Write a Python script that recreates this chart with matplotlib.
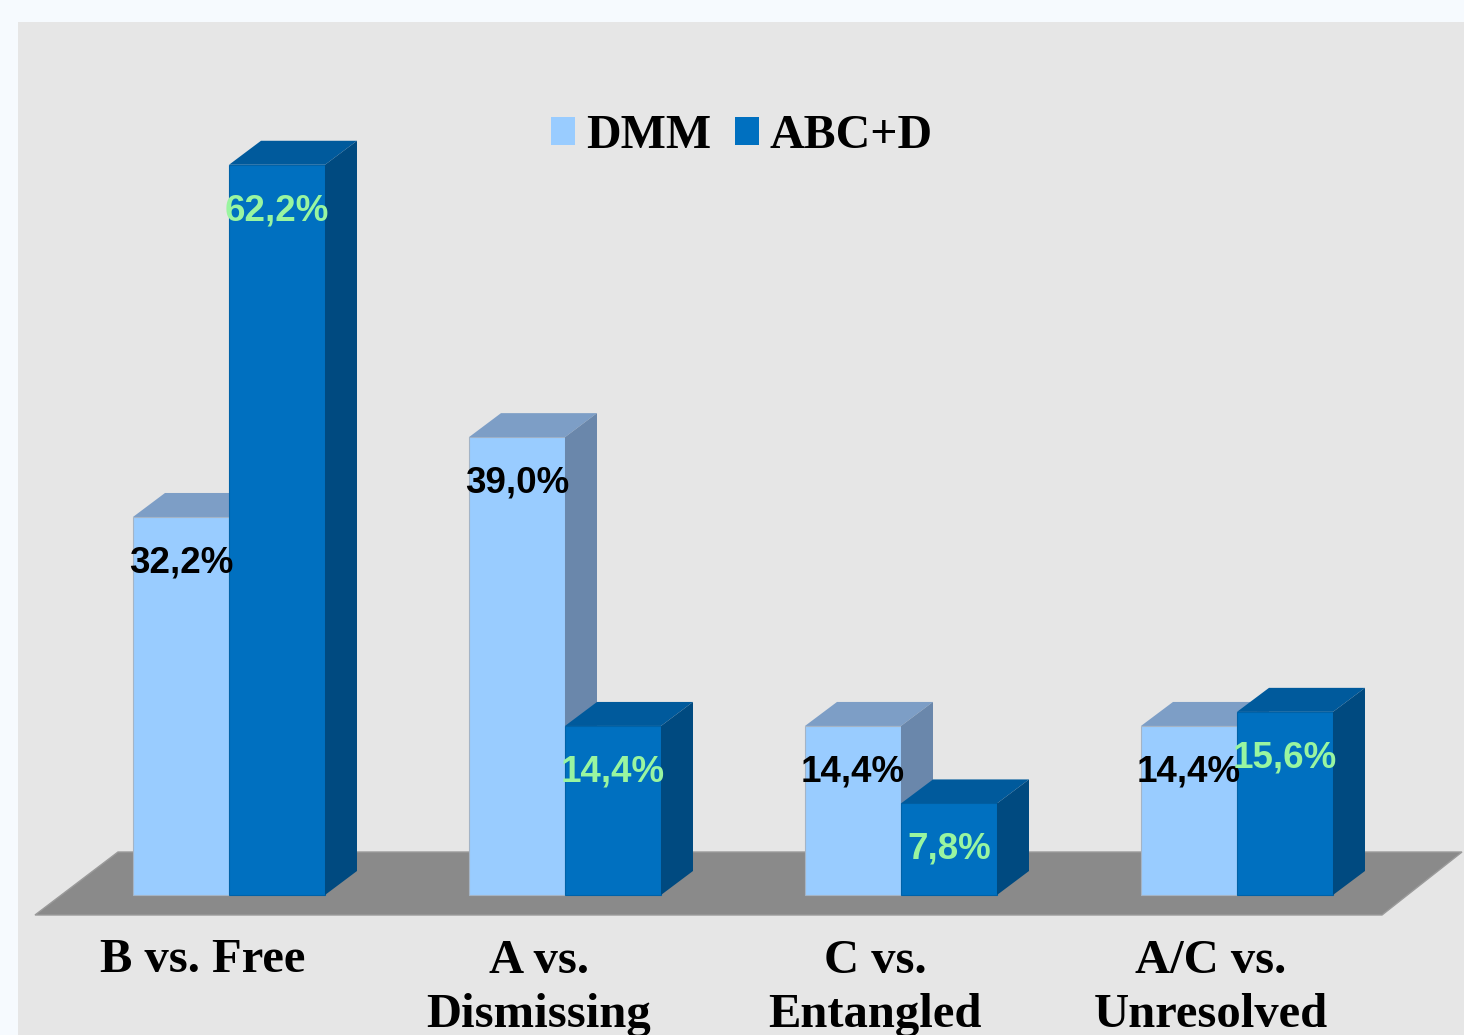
import numpy as np
import matplotlib
matplotlib.use('Agg')
import matplotlib.pyplot as plt
from matplotlib.patches import Patch, Polygon
from matplotlib.font_manager import FontProperties
import matplotlib.transforms as mtransforms

# %% data
categories = ['B vs. Free', 'A vs.\nDismissing', 'C vs.\nEntangled', 'A/C vs.\nUnresolved']
series_names = ['DMM', 'ABC+D']
dmm = [32.2, 39.0, 14.4, 14.4]
abcd = [62.2, 14.4, 7.8, 15.6]
dmm_labels = ['32,2%', '39,0%', '14,4%', '14,4%']
abcd_labels = ['62,2%', '14,4%', '7,8%', '15,6%']

# %% style
W, H = 1464, 1035
px_per_group = 336.0
px_per_pct = 11.74
x0_px, base_px = 229.0, 895.0       # group 0 centre, bar base (pixels from top)
bar_w = 96 / px_per_group
ddx = 32 / px_per_group              # 3d depth offset
ddy = 24 / px_per_pct

light = dict(front='#99ccff', top='#7d9ec6', side='#6a87ab', edge='#a4b4c6')
dark = dict(front='#0070c0', top='#005a9c', side='#004a80', edge='#0062a8')
green = '#99f5a0'

fig = plt.figure(figsize=(W / 100, H / 100), dpi=100, facecolor='#f6fafe')
panel_l, panel_t = 18, 22
ax = fig.add_axes([panel_l / W, 0, 1 - panel_l / W, 1 - panel_t / H])
ax.set_facecolor('#e6e6e6')
for s in ax.spines.values():
    s.set_visible(False)
ax.set_xticks([])
ax.set_yticks([])
ax.set_xlim((panel_l - x0_px) / px_per_group, (W - x0_px) / px_per_group)
ax.set_ylim((base_px - H) / px_per_pct, (base_px - panel_t) / px_per_pct)

# %% floor
fl_front = (base_px - 915) / px_per_pct
fl_back = (base_px - 852) / px_per_pct
floor = Polygon([((35 - x0_px) / px_per_group, fl_front),
                 ((1382 - x0_px) / px_per_group, fl_front),
                 ((1462 - x0_px) / px_per_group, fl_back),
                 ((118 - x0_px) / px_per_group, fl_back)],
                closed=True, facecolor='#8a8a8a', edgecolor='#9a9a9a', lw=1, zorder=1)
ax.add_patch(floor)

x = np.arange(len(categories))


def bars_3d(xs, vals, c, z):
    ax.bar(xs, vals, width=bar_w, align='edge', color=c['front'],
           edgecolor=c['edge'], linewidth=0.8, zorder=z)
    for xl, v in zip(xs, vals):
        top = [(xl, v), (xl + bar_w, v), (xl + bar_w + ddx, v + ddy), (xl + ddx, v + ddy)]
        side = [(xl + bar_w, 0), (xl + bar_w + ddx, ddy),
                (xl + bar_w + ddx, v + ddy), (xl + bar_w, v)]
        ax.add_patch(Polygon(top, closed=True, facecolor=c['top'], edgecolor='none', zorder=z))
        ax.add_patch(Polygon(side, closed=True, facecolor=c['side'], edgecolor='none', zorder=z))


bars_3d(x - bar_w, dmm, light, 2)
bars_3d(x, abcd, dark, 3)

# %% value labels
val_font = dict(family='Liberation Sans', weight='bold', size=26.5)
lab_off = 3.9
for i in range(len(categories)):
    ax.text(x[i] - bar_w / 2, dmm[i] - lab_off, dmm_labels[i], ha='center', va='center',
            color='black', zorder=5, **val_font)
    ax.text(x[i] + bar_w / 2, abcd[i] - lab_off, abcd_labels[i], ha='center', va='center',
            color=green, zorder=5, **val_font)

# %% category labels (va='baseline' pins the last line, so push down per extra line)
trans = mtransforms.blended_transform_factory(ax.transData, fig.transFigure)
cat_shift = -26 / px_per_group
for i, cat in enumerate(categories):
    n_extra = cat.count('\n')
    ax.text(x[i] + cat_shift, 1 - (972 + 55 * n_extra) / H, cat, transform=trans,
            ha='center', va='baseline', family='Liberation Serif', weight='bold',
            size=35, linespacing=1.28)

# %% legend
handles = [Patch(facecolor=light['front'], label=series_names[0]),
           Patch(facecolor=dark['front'], label=series_names[1])]
ax.legend(handles=handles, loc='center', bbox_to_anchor=(742 / W, 1 - 136 / H),
          bbox_transform=fig.transFigure, ncol=2, frameon=False,
          prop=FontProperties(family='Liberation Serif', weight='bold', size=34.5),
          handlelength=0.5, handleheight=0.5, handletextpad=0.23,
          columnspacing=0.5, borderpad=0)

fig.savefig('out.png', dpi=100, facecolor=fig.get_facecolor())
